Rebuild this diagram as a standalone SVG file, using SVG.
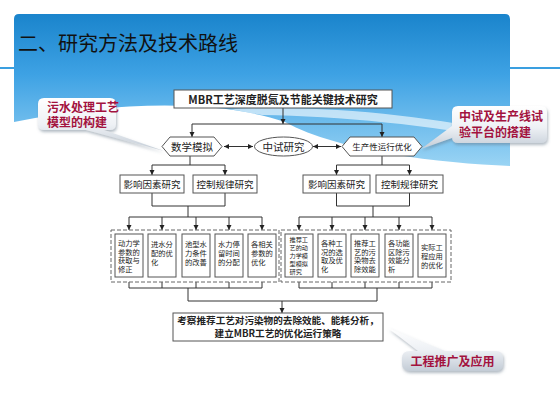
<svg xmlns="http://www.w3.org/2000/svg" width="560" height="420" viewBox="0 0 560 420">
<defs>
<linearGradient id="blue" x1="0" y1="0" x2="0" y2="1">
<stop offset="0" stop-color="#1a84cc"/>
<stop offset="0.4" stop-color="#3ea2e4"/>
<stop offset="1" stop-color="#9ad4f4"/>
</linearGradient>
<linearGradient id="call" x1="0" y1="0" x2="0" y2="1">
<stop offset="0" stop-color="#ffffff"/>
<stop offset="0.5" stop-color="#eef1f5"/>
<stop offset="1" stop-color="#c3ccd6"/>
</linearGradient>
<filter id="sh" x="-20%" y="-20%" width="140%" height="160%">
<feDropShadow dx="1" dy="2" stdDeviation="1.5" flood-color="#667788" flood-opacity="0.5"/>
</filter>
<marker id="ah" markerWidth="6" markerHeight="6" refX="5" refY="3" orient="auto" markerUnits="userSpaceOnUse">
<path d="M0,0.5 L5,3 L0,5.5 Z" fill="#222"/>
</marker>
<marker id="as" markerWidth="6" markerHeight="6" refX="0" refY="3" orient="auto" markerUnits="userSpaceOnUse">
<path d="M5,0.5 L0,3 L5,5.5 Z" fill="#222"/>
</marker>
<style>
.ln{fill:none;stroke:#333;stroke-width:1}
.bx{fill:#fff;stroke:#555;stroke-width:1}
.t{font-family:"Noto Sans CJK SC","Noto Sans",sans-serif;fill:#222}
.c{text-anchor:middle}
.s{font-size:7.3px}
.xs{font-size:6.2px}
.cl{fill:url(#call);filter:url(#sh)}
.ct{font-family:"Noto Sans CJK SC",sans-serif;font-weight:bold;font-size:12px;fill:#a3123e}
</style>
</defs>
<rect width="560" height="420" fill="#ffffff"/>
<line x1="0" y1="68" x2="560" y2="68" stroke="#3a9fe0" stroke-width="2"/>
<path d="M14,122 L14,19 Q14,14 19,14 L505,14 Q510,14 510,19 L510,166 C440,163 340,152 285,122 C220,100 120,100 14,122 Z" fill="url(#blue)"/>
<path d="M230,109 C330,104 430,117 510,133 L510,141 C430,125 340,116 262,115 Z" fill="#ffffff" opacity="0.6"/>
<text x="18" y="51" class="t" style="font-size:20px;fill:#111">二、研究方法及技术路线</text>

<g id="connectors">
<line class="ln" x1="283" y1="108" x2="283" y2="124" marker-end="url(#ah)"/>
<line class="ln" x1="192" y1="124" x2="382" y2="124"/>
<line class="ln" x1="192" y1="124" x2="192" y2="137" marker-end="url(#ah)"/>
<line class="ln" x1="382" y1="124" x2="382" y2="137" marker-end="url(#ah)"/>
<line class="ln" x1="224" y1="146.5" x2="253" y2="146.5" marker-start="url(#as)" marker-end="url(#ah)"/>
<line class="ln" x1="313" y1="146.5" x2="341" y2="146.5" marker-start="url(#as)" marker-end="url(#ah)"/>
<polyline class="ln" points="190,156 190,165"/>
<line class="ln" x1="152" y1="165" x2="225" y2="165"/>
<line class="ln" x1="152" y1="165" x2="152" y2="175" marker-end="url(#ah)"/>
<line class="ln" x1="225" y1="165" x2="225" y2="175" marker-end="url(#ah)"/>
<polyline class="ln" points="382,156 382,165"/>
<line class="ln" x1="336.5" y1="165" x2="409.5" y2="165"/>
<line class="ln" x1="336.5" y1="165" x2="336.5" y2="175" marker-end="url(#ah)"/>
<line class="ln" x1="409.5" y1="165" x2="409.5" y2="175" marker-end="url(#ah)"/>
<polyline class="ln" points="152,193 152,206 225,206 225,193"/>
<line class="ln" x1="188" y1="206" x2="188" y2="217"/>
<line class="ln" x1="129" y1="217" x2="262" y2="217"/>
<line class="ln" x1="129" y1="217" x2="129" y2="230" marker-end="url(#ah)"/>
<line class="ln" x1="162" y1="217" x2="162" y2="230" marker-end="url(#ah)"/>
<line class="ln" x1="196" y1="217" x2="196" y2="230" marker-end="url(#ah)"/>
<line class="ln" x1="229" y1="217" x2="229" y2="230" marker-end="url(#ah)"/>
<line class="ln" x1="262" y1="217" x2="262" y2="230" marker-end="url(#ah)"/>
<polyline class="ln" points="336.5,193 336.5,206 409.5,206 409.5,193"/>
<line class="ln" x1="373" y1="206" x2="373" y2="217"/>
<line class="ln" x1="299" y1="217" x2="432" y2="217"/>
<line class="ln" x1="299" y1="217" x2="299" y2="230" marker-end="url(#ah)"/>
<line class="ln" x1="332" y1="217" x2="332" y2="230" marker-end="url(#ah)"/>
<line class="ln" x1="365" y1="217" x2="365" y2="230" marker-end="url(#ah)"/>
<line class="ln" x1="399" y1="217" x2="399" y2="230" marker-end="url(#ah)"/>
<line class="ln" x1="432" y1="217" x2="432" y2="230" marker-end="url(#ah)"/>
<path class="ln" d="M129,277 V288 M162,277 V288 M196,277 V288 M229,277 V288 M262,277 V288 M129,288 H262"/>
<path class="ln" d="M299,277 V288 M332,277 V288 M365,277 V288 M399,277 V288 M432,277 V288 M299,288 H432"/>
<polyline class="ln" points="188,288 188,301 377,301 377,288"/>
<line class="ln" x1="282" y1="301" x2="282" y2="313" marker-end="url(#ah)"/>
</g>

<g id="mbr">
<rect class="bx" x="174" y="90" width="218" height="18"/>
<text x="283" y="103.5" class="t c" style="font-size:11px;font-weight:bold">MBR工艺深度脱氮及节能关键技术研究</text>
</g>
<g id="math">
<polygon class="bx" points="162,146.5 170,137 214,137 222,146.5 214,156 170,156"/>
<text x="192" y="150.5" class="t c" style="font-size:10.5px">数学模拟</text>
</g>
<g id="pilot">
<ellipse class="bx" cx="283.5" cy="146.5" rx="29" ry="9.5"/>
<text x="283.5" y="150.5" class="t c" style="font-size:10.5px">中试研究</text>
</g>
<g id="prod">
<polygon class="bx" points="342,146.5 350,137 414,137 422,146.5 414,156 350,156"/>
<text x="382" y="149.5" class="t c" style="font-size:8.5px">生产性运行优化</text>
</g>
<g id="l-factor">
<rect class="bx" x="120" y="175" width="64" height="18"/>
<text x="152" y="187.5" class="t c" style="font-size:9.5px">影响因素研究</text>
</g>
<g id="l-control">
<rect class="bx" x="193" y="175" width="64" height="18"/>
<text x="225" y="187.5" class="t c" style="font-size:9.5px">控制规律研究</text>
</g>
<g id="r-factor">
<rect class="bx" x="303" y="175" width="67" height="18"/>
<text x="336.5" y="187.5" class="t c" style="font-size:9.5px">影响因素研究</text>
</g>
<g id="r-control">
<rect class="bx" x="376" y="175" width="67" height="18"/>
<text x="409.5" y="187.5" class="t c" style="font-size:9.5px">控制规律研究</text>
</g>

<g id="left-group">
<rect x="111" y="230" width="168" height="52" fill="#fff" stroke="#666" stroke-width="1" stroke-dasharray="4,2"/>
<rect class="bx" x="115" y="234" width="28" height="43"/>
<rect class="bx" x="148" y="234" width="28" height="43"/>
<rect class="bx" x="182" y="234" width="28" height="43"/>
<rect class="bx" x="215" y="234" width="28" height="43"/>
<rect class="bx" x="248" y="234" width="28" height="43"/>
<text class="t s"><tspan x="118" y="246">动力学</tspan><tspan x="118" y="254.5">参数的</tspan><tspan x="118" y="263">获取与</tspan><tspan x="118" y="271.5">修正</tspan></text>
<text class="t s"><tspan x="151" y="247">进水分</tspan><tspan x="151" y="256">配的优</tspan><tspan x="151" y="265">化</tspan></text>
<text class="t s"><tspan x="185" y="247">池型水</tspan><tspan x="185" y="256">力条件</tspan><tspan x="185" y="265">的改善</tspan></text>
<text class="t s"><tspan x="218" y="247">水力停</tspan><tspan x="218" y="256">留时间</tspan><tspan x="218" y="265">的分配</tspan></text>
<text class="t s"><tspan x="251" y="247">各相关</tspan><tspan x="251" y="256">参数的</tspan><tspan x="251" y="265">优化</tspan></text>
</g>
<g id="right-group">
<rect x="281" y="230" width="170" height="52" fill="#fff" stroke="#666" stroke-width="1" stroke-dasharray="4,2"/>
<rect class="bx" x="285" y="234" width="28" height="43"/>
<rect class="bx" x="318" y="234" width="28" height="43"/>
<rect class="bx" x="351" y="234" width="28" height="43"/>
<rect class="bx" x="385" y="234" width="28" height="43"/>
<rect class="bx" x="418" y="234" width="28" height="43"/>
<text class="t xs"><tspan x="289.5" y="241.5">推荐工</tspan><tspan x="289.5" y="249.5">艺的动</tspan><tspan x="289.5" y="257.5">力学模</tspan><tspan x="289.5" y="265.5">型模拟</tspan><tspan x="289.5" y="273.5">研究</tspan></text>
<text class="t s"><tspan x="321" y="246">各种工</tspan><tspan x="321" y="254.5">况的选</tspan><tspan x="321" y="263">取及优</tspan><tspan x="321" y="271.5">化</tspan></text>
<text class="t s"><tspan x="354" y="246">推荐工</tspan><tspan x="354" y="254.5">艺的污</tspan><tspan x="354" y="263">染物去</tspan><tspan x="354" y="271.5">除效能</tspan></text>
<text class="t s"><tspan x="388" y="246">各功能</tspan><tspan x="388" y="254.5">区除污</tspan><tspan x="388" y="263">效能分</tspan><tspan x="388" y="271.5">析</tspan></text>
<text class="t s"><tspan x="421" y="250">实际工</tspan><tspan x="421" y="259">程应用</tspan><tspan x="421" y="268">的优化</tspan></text>
</g>
<g id="final">
<rect class="bx" x="173" y="313" width="210" height="28"/>
<text class="t c" style="font-size:9.6px;font-weight:bold"><tspan x="278" y="323.5">考察推荐工艺对污染物的去除效能、能耗分析，</tspan><tspan x="278" y="337">建立MBR工艺的优化运行策略</tspan></text>
</g>

<g id="callout-model">
<path class="cl" d="M44,98 H110 Q116,98 116,104 V124 Q116,130 110,130 H104 L164,151 L86,130 H44 Q38,130 38,124 V104 Q38,98 44,98 Z"/>
<text class="ct"><tspan x="47" y="111.5">污水处理工艺</tspan><tspan x="47" y="127">模型的构建</tspan></text>
</g>
<g id="callout-pilot">
<path class="cl" d="M458,106 H541 Q547,106 547,112 V137 Q547,143 541,143 H458 Q452,143 452,137 V138 L421,149 L452,126 V112 Q452,106 458,106 Z"/>
<text class="ct"><tspan x="459" y="120.5">中试及生产线试</tspan><tspan x="459" y="136.5">验平台的搭建</tspan></text>
</g>
<g id="callout-eng">
<path class="cl" d="M410,351 H418 L388,328 L445,351 H496 Q503,351 503,358 V364 Q503,371 496,371 H410 Q402,371 402,364 V358 Q402,351 410,351 Z"/>
<text x="452.5" y="365.5" class="ct" style="text-anchor:middle">工程推广及应用</text>
</g>
</svg>
